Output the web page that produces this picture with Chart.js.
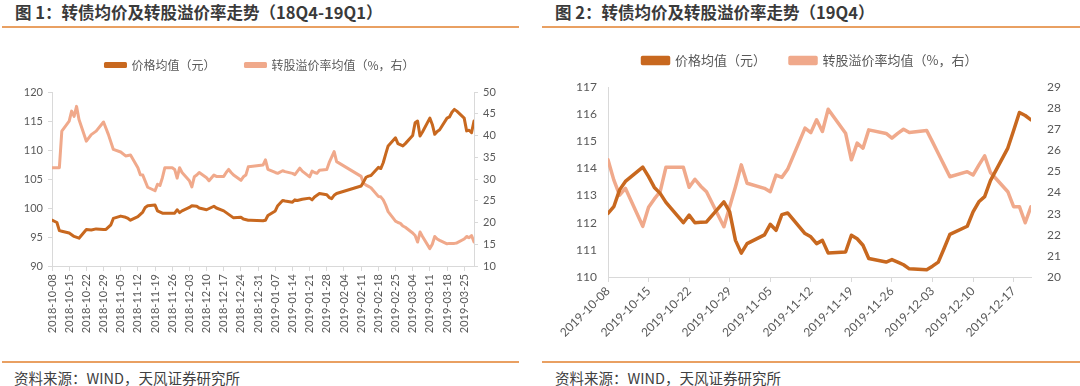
<!DOCTYPE html>
<html><head><meta charset="utf-8">
<script src="https://cdn.jsdelivr.net/npm/chart.js@4.4.1/dist/chart.umd.min.js"></script>
<style>
body{margin:0;width:1080px;height:386px;background:#fff;position:relative;overflow:hidden;font-family:"Noto Sans CJK SC","Noto Sans",sans-serif;}
.title{position:absolute;top:1px;font-size:16.5px;font-weight:bold;color:#3a3a3a;line-height:22px;white-space:nowrap;}
.rule{position:absolute;height:2px;background:#E9A062;}
.src{position:absolute;top:368px;font-size:14.5px;color:#404040;white-space:nowrap;line-height:20px;}
.box{position:absolute;}
</style></head><body>
<div class="title" style="left:15px">图 1：转债均价及转股溢价率走势（18Q4-19Q1）</div>
<div class="title" style="left:555px">图 2：转债均价及转股溢价率走势（19Q4）</div>
<div class="rule" style="left:2px;width:517px;top:26px"></div>
<div class="rule" style="left:542px;width:538px;top:26px"></div>
<div class="rule" style="left:2px;width:517px;top:361px"></div>
<div class="rule" style="left:542px;width:538px;top:361px"></div>
<div class="src" style="left:14px">资料来源：WIND，天风证券研究所</div>
<div class="src" style="left:555px">资料来源：WIND，天风证券研究所</div>
<div class="box" style="left:0;top:29px;width:520px;height:320px"><canvas id="c1" width="520" height="320"></canvas></div>
<div class="box" style="left:540px;top:30px;width:540px;height:320px"><canvas id="c2" width="540" height="320"></canvas></div>
<script>
// ---------- Chart 1 : 18Q4-19Q1 ----------
const seriesNames = ['价格均值（元）', '转股溢价率均值（%，右）'];
const range1 = ['2018-10-08', '2019-03-29'];
const tickLabels1 = ['2018-10-08','2018-10-15','2018-10-22','2018-10-29','2018-11-05','2018-11-12','2018-11-19','2018-11-26','2018-12-03','2018-12-10','2018-12-17','2018-12-24','2018-12-31','2019-01-07','2019-01-14','2019-01-21','2019-01-28','2019-02-04','2019-02-11','2019-02-18','2019-02-25','2019-03-04','2019-03-11','2019-03-18','2019-03-25'];
const priceDates1 = ['2018-10-08','2018-10-10','2018-10-11','2018-10-12','2018-10-15','2018-10-17','2018-10-19','2018-10-22','2018-10-24','2018-10-26','2018-10-29','2018-10-30','2018-11-01','2018-11-02','2018-11-05','2018-11-07','2018-11-08','2018-11-09','2018-11-12','2018-11-14','2018-11-15','2018-11-16','2018-11-19','2018-11-20','2018-11-22','2018-11-23','2018-11-26','2018-11-27','2018-11-28','2018-11-29','2018-11-30','2018-12-03','2018-12-04','2018-12-06','2018-12-07','2018-12-10','2018-12-13','2018-12-14','2018-12-17','2018-12-19','2018-12-21','2018-12-24','2018-12-25','2018-12-27','2018-12-28','2019-01-02','2019-01-03','2019-01-04','2019-01-07','2019-01-08','2019-01-10','2019-01-11','2019-01-14','2019-01-15','2019-01-16','2019-01-18','2019-01-21','2019-01-22','2019-01-23','2019-01-25','2019-01-28','2019-01-29','2019-01-30','2019-01-31','2019-02-01','2019-02-11','2019-02-12','2019-02-13','2019-02-14','2019-02-15','2019-02-18','2019-02-19','2019-02-20','2019-02-21','2019-02-22','2019-02-25','2019-02-26','2019-02-28','2019-03-01','2019-03-04','2019-03-05','2019-03-06','2019-03-07','2019-03-08','2019-03-11','2019-03-12','2019-03-13','2019-03-14','2019-03-15','2019-03-18','2019-03-19','2019-03-20','2019-03-21','2019-03-22','2019-03-25','2019-03-26','2019-03-27','2019-03-28','2019-03-29'];
const price1 = [97.9,97.5,96.1,96.0,95.7,95.1,94.8,96.3,96.2,96.4,96.3,96.3,97.1,98.2,98.6,98.4,98.2,97.9,98.5,99.3,100.1,100.4,100.5,99.5,99.1,99.1,99.1,99.1,99.7,99.2,99.5,100.1,100.4,100.3,100.0,99.7,100.3,100.0,99.5,98.9,98.3,98.4,98.1,97.9,97.9,97.8,97.9,98.7,99.5,100.4,101.3,101.2,101.0,101.4,101.3,101.5,101.7,101.4,101.9,102.5,102.3,101.8,101.6,102.2,102.5,103.8,104.5,105.3,105.5,105.6,107.0,106.8,107.8,109.3,110.7,112.1,111.1,110.7,111.1,112.5,114.7,115.0,112.4,113.1,115.5,114.4,112.7,113.2,113.5,115.5,115.7,116.5,117.0,116.7,115.5,113.3,113.4,113.0,115.0];
const premDates1 = ['2018-10-08','2018-10-11','2018-10-12','2018-10-15','2018-10-16','2018-10-17','2018-10-18','2018-10-19','2018-10-22','2018-10-24','2018-10-26','2018-10-29','2018-10-31','2018-11-02','2018-11-05','2018-11-07','2018-11-09','2018-11-12','2018-11-13','2018-11-14','2018-11-16','2018-11-19','2018-11-20','2018-11-21','2018-11-22','2018-11-23','2018-11-26','2018-11-27','2018-11-28','2018-11-29','2018-11-30','2018-12-03','2018-12-04','2018-12-05','2018-12-06','2018-12-07','2018-12-10','2018-12-11','2018-12-13','2018-12-14','2018-12-17','2018-12-18','2018-12-19','2018-12-20','2018-12-21','2018-12-24','2018-12-25','2018-12-26','2018-12-27','2018-12-28','2019-01-02','2019-01-03','2019-01-04','2019-01-07','2019-01-08','2019-01-10','2019-01-11','2019-01-14','2019-01-15','2019-01-17','2019-01-18','2019-01-21','2019-01-22','2019-01-23','2019-01-24','2019-01-25','2019-01-28','2019-01-29','2019-01-31','2019-02-01','2019-02-11','2019-02-12','2019-02-13','2019-02-14','2019-02-15','2019-02-18','2019-02-19','2019-02-20','2019-02-21','2019-02-22','2019-02-25','2019-02-26','2019-02-27','2019-02-28','2019-03-01','2019-03-04','2019-03-05','2019-03-06','2019-03-07','2019-03-08','2019-03-11','2019-03-12','2019-03-13','2019-03-14','2019-03-15','2019-03-18','2019-03-19','2019-03-20','2019-03-21','2019-03-22','2019-03-25','2019-03-26','2019-03-27','2019-03-28','2019-03-29'];
const prem1 = [32.6,32.6,41.0,43.3,45.6,44.4,46.7,43.7,38.7,40.2,41.0,43.1,40.2,36.8,36.2,35.3,35.5,32.6,31.0,30.9,28.1,27.3,28.8,28.5,30.3,32.6,32.6,32.2,30.2,32.6,31.5,29.6,28.2,30.5,30.9,31.5,30.3,29.6,30.9,30.6,30.6,31.5,32.2,31.5,30.9,29.7,30.5,30.9,32.8,32.9,33.2,34.4,32.2,31.5,31.3,31.9,31.7,31.3,31.0,32.5,31.8,30.5,31.8,31.5,31.3,32.0,32.2,33.8,36.3,34.0,30.6,29.0,28.6,28.3,28.0,26.0,25.9,25.2,24.0,22.5,20.3,20.0,19.8,19.2,18.9,17.6,17.0,15.5,17.8,16.8,14.0,15.0,16.8,16.2,15.9,15.1,15.2,15.2,15.2,15.3,16.2,16.8,16.5,17.0,15.5];

// ---------- Chart 2 : 19Q4 ----------
const range2 = ['2019-10-08', '2019-12-20'];
const tickLabels2 = ['2019-10-08','2019-10-15','2019-10-22','2019-10-29','2019-11-05','2019-11-12','2019-11-19','2019-11-26','2019-12-03','2019-12-10','2019-12-17'];
const dates2 = ['2019-10-08','2019-10-09','2019-10-10','2019-10-11','2019-10-14','2019-10-15','2019-10-16','2019-10-17','2019-10-18','2019-10-21','2019-10-22','2019-10-23','2019-10-24','2019-10-25','2019-10-28','2019-10-29','2019-10-30','2019-10-31','2019-11-01','2019-11-04','2019-11-05','2019-11-06','2019-11-07','2019-11-08','2019-11-11','2019-11-12','2019-11-13','2019-11-14','2019-11-15','2019-11-18','2019-11-19','2019-11-20','2019-11-21','2019-11-22','2019-11-25','2019-11-26','2019-11-27','2019-11-28','2019-11-29','2019-12-02','2019-12-03','2019-12-04','2019-12-05','2019-12-06','2019-12-09','2019-12-10','2019-12-11','2019-12-12','2019-12-13','2019-12-16','2019-12-17','2019-12-18','2019-12-19','2019-12-20'];
const price2 = [112.34,112.59,113.21,113.52,114.05,113.7,113.3,113.08,112.75,112.0,112.28,112.0,112.02,112.03,112.77,112.4,111.35,110.88,111.23,111.55,111.94,111.72,112.3,112.36,111.6,111.48,111.23,111.35,110.88,110.92,111.54,111.41,111.17,110.68,110.55,110.64,110.55,110.45,110.3,110.27,110.4,110.55,111.05,111.57,111.87,112.4,112.77,112.96,113.55,114.75,115.4,116.06,115.95,115.79];
const prem2 = [25.55,24.6,23.88,24.2,22.4,23.3,23.7,24.04,25.2,25.2,24.25,24.63,24.3,24.04,22.38,23.33,24.28,25.31,24.44,24.2,24.04,24.83,24.72,25.1,27.05,26.84,27.45,26.89,27.95,26.81,25.55,26.34,26.1,26.97,26.8,26.58,26.8,27.0,26.84,26.94,26.4,25.85,25.3,24.75,24.99,24.83,25.3,25.74,24.95,24.04,23.33,23.33,22.57,23.33];

// ---------- helpers ----------
const DAY = 86400000;
function utc(s){ const p = s.split('-').map(Number); return Date.UTC(p[0], p[1]-1, p[2]); }
function dayOf(s, start){ return Math.round((utc(s) - utc(start)) / DAY); }
function pts(dates, vals, start){ return dates.map((d,i) => ({x: dayOf(d, start), y: vals[i]})); }

const DARK = '#C8681F', LIGHT = '#F0A98B', AXIS = '#D9D9D9', TXT = '#595959';
const NUMFONT = 'Lato, "Noto Sans", sans-serif';
const CJK = '"Noto Sans CJK SC", sans-serif';

const legendFix = {
  id: 'legendFix',
  afterInit(chart, args, opts) {
    const lg = chart.legend; const orig = lg.fit;
    lg.fit = function(){ orig.call(this); this.height = opts.height; };
  }
};

function makeChart(id, cfg) {
  const start = cfg.range[0];
  const tickDays = cfg.tickLabels.map(t => dayOf(t, start));
  return new Chart(document.getElementById(id), {
    type: 'line',
    data: { datasets: [
      { label: seriesNames[0], data: cfg.priceData, yAxisID: 'y', borderColor: DARK, backgroundColor: DARK,
        borderWidth: cfg.lw, pointRadius: 0, tension: 0, borderJoinStyle: 'round', borderCapStyle: 'round' },
      { label: seriesNames[1], data: cfg.premData, yAxisID: 'y2', borderColor: LIGHT, backgroundColor: LIGHT,
        borderWidth: cfg.lw, pointRadius: 0, tension: 0, borderJoinStyle: 'round', borderCapStyle: 'round' }
    ]},
    plugins: [legendFix],
    options: {
      responsive: false, animation: false, events: [],
      layout: { padding: 0 },
      plugins: {
        legendFix: { height: cfg.legendH },
        tooltip: { enabled: false },
        legend: { display: true, position: 'top',
          labels: { boxWidth: cfg.boxW, boxHeight: cfg.boxH, padding: cfg.legPad, color: TXT,
            font: { family: CJK, size: cfg.legFont } } }
      },
      scales: {
        x: { type: 'linear', min: 0, max: dayOf(cfg.range[1], start),
          afterBuildTicks: s => { s.ticks = tickDays.map(v => ({value: v})); },
          afterFit: s => { s.height = cfg.xH; },
          ticks: { autoSkip: false, minRotation: cfg.rot, maxRotation: cfg.rot, color: TXT, padding: cfg.xPad,
            font: { family: NUMFONT, size: cfg.xFont },
            callback: (v) => { const i = tickDays.indexOf(v); return i >= 0 ? cfg.tickLabels[i] : ''; } },
          grid: { drawOnChartArea: false, drawTicks: true, tickLength: 5, color: AXIS },
          border: { display: true, color: AXIS } },
        y: { position: 'left', min: cfg.yMin, max: cfg.yMax,
          afterFit: s => { s.width = cfg.yW; },
          ticks: { stepSize: cfg.yStep, color: TXT, padding: cfg.yPad, font: { family: NUMFONT, size: cfg.yFont } },
          grid: { drawOnChartArea: false, drawTicks: cfg.yTicks, tickLength: 4, color: AXIS },
          border: { display: true, color: AXIS } },
        y2: { position: 'right', min: cfg.y2Min, max: cfg.y2Max,
          afterFit: s => { s.width = cfg.y2W; },
          ticks: { stepSize: cfg.y2Step, color: TXT, padding: cfg.y2Pad, font: { family: NUMFONT, size: cfg.yFont } },
          grid: { drawOnChartArea: false, drawTicks: cfg.yTicks, tickLength: 4, color: AXIS },
          border: { display: cfg.y2Border, color: AXIS } }
      }
    }
  });
}

makeChart('c1', {
  range: range1, tickLabels: tickLabels1,
  priceData: pts(priceDates1, price1, range1[0]), premData: pts(premDates1, prem1, range1[0]),
  lw: 3, legendH: 63, boxW: 20, boxH: 3, legPad: 30, legFont: 12,
  xH: 83, rot: 90, xPad: 3, xFont: 11,
  yW: 52, yMin: 90, yMax: 120, yStep: 5, yPad: 5, yFont: 11, yTicks: true,
  y2W: 46, y2Min: 10, y2Max: 50, y2Step: 5, y2Pad: 5, y2Border: true
});

makeChart('c2', {
  range: range2, tickLabels: tickLabels2,
  priceData: pts(dates2, price2, range2[0]), premData: pts(dates2, prem2, range2[0]),
  lw: 3.5, legendH: 57, boxW: 26, boxH: 6, legPad: 24, legFont: 13,
  xH: 73, rot: 45, xPad: 2, xFont: 12,
  yW: 68, yMin: 110, yMax: 117, yStep: 1, yPad: 11, yFont: 12, yTicks: false,
  y2W: 49, y2Min: 20, y2Max: 29, y2Step: 1, y2Pad: 16, y2Border: false
});
</script>
</body></html>
